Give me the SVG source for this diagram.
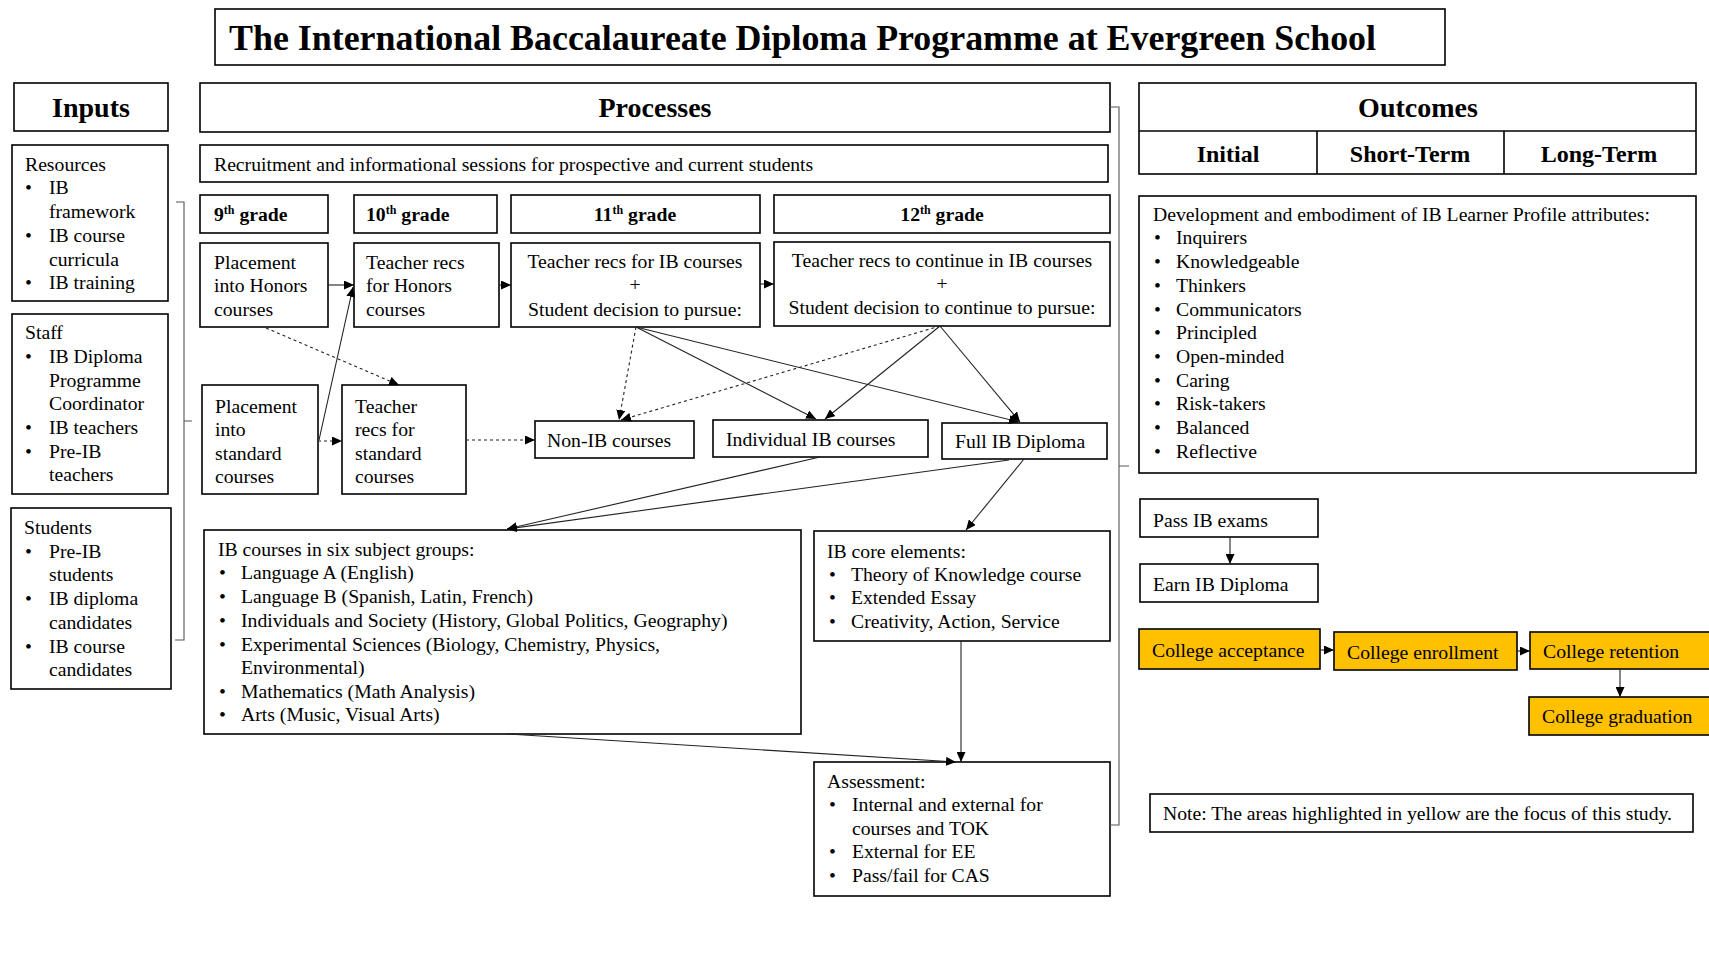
<svg xmlns="http://www.w3.org/2000/svg" width="1709" height="954" viewBox="0 0 1709 954">
<defs>
<style>
.box{fill:#fff;stroke:#000;stroke-width:1.6}
.yel{fill:#FFC000;stroke:#000;stroke-width:1.6}
.t{font-family:"Liberation Serif","Times New Roman",serif;font-size:19.7px;fill:#000}
.b{font-weight:bold}
.c{text-anchor:middle}
.h{font-size:28px;font-weight:bold}
.h2{font-size:24px;font-weight:bold}
.ln{stroke:#222;stroke-width:1.1;fill:none}
.dash{stroke-dasharray:3 3}
.br{stroke:#555;stroke-width:1.1;fill:none}
</style>
<marker id="ah" markerUnits="userSpaceOnUse" markerWidth="11" markerHeight="9" refX="10" refY="4.5" orient="auto" viewBox="0 0 11 9">
<path d="M0,0 L10,4.5 L0,9 z" fill="#000"/>
</marker>
</defs>
<rect width="1709" height="954" fill="#fff"/>

<g id="title">
<rect class="box" x="215" y="9" width="1230" height="56"/>
<text class="t b" x="229" y="50" textLength="1147" lengthAdjust="spacingAndGlyphs" style="font-size:36px">The International Baccalaureate Diploma Programme at Evergreen School</text>
</g>

<g id="inputs-header">
<rect class="box" x="14" y="83" width="154" height="48"/>
<text class="t h c" x="91" y="117">Inputs</text>
</g>

<g id="resources">
<rect class="box" x="12" y="145" width="156" height="156"/>
<text class="t" x="25" y="171">Resources</text>
<text class="t" x="25" y="194">•</text><text class="t" x="49" y="194">IB</text>
<text class="t" x="49" y="218">framework</text>
<text class="t" x="25" y="242">•</text><text class="t" x="49" y="242">IB course</text>
<text class="t" x="49" y="266">curricula</text>
<text class="t" x="25" y="289">•</text><text class="t" x="49" y="289">IB training</text>
</g>

<g id="staff">
<rect class="box" x="12" y="314" width="156" height="180"/>
<text class="t" x="25" y="339">Staff</text>
<text class="t" x="25" y="363">•</text><text class="t" x="49" y="363">IB Diploma</text>
<text class="t" x="49" y="387">Programme</text>
<text class="t" x="49" y="410">Coordinator</text>
<text class="t" x="25" y="434">•</text><text class="t" x="49" y="434">IB teachers</text>
<text class="t" x="25" y="458">•</text><text class="t" x="49" y="458">Pre-IB</text>
<text class="t" x="49" y="481">teachers</text>
</g>

<g id="students">
<rect class="box" x="11" y="508" width="160" height="181"/>
<text class="t" x="24" y="534">Students</text>
<text class="t" x="25" y="558">•</text><text class="t" x="49" y="558">Pre-IB</text>
<text class="t" x="49" y="581">students</text>
<text class="t" x="25" y="605">•</text><text class="t" x="49" y="605">IB diploma</text>
<text class="t" x="49" y="629">candidates</text>
<text class="t" x="25" y="653">•</text><text class="t" x="49" y="653">IB course</text>
<text class="t" x="49" y="676">candidates</text>
</g>

<g id="processes-header">
<rect class="box" x="200" y="83" width="910" height="49"/>
<text class="t h c" x="655" y="117">Processes</text>
</g>

<g id="recruitment">
<rect class="box" x="200" y="145" width="908" height="37"/>
<text class="t" x="214" y="171">Recruitment and informational sessions for prospective and current students</text>
</g>

<g id="grade9">
<rect class="box" x="200" y="195" width="128" height="38"/>
<text class="t b" x="214" y="221">9<tspan dy="-7" style="font-size:12px">th</tspan><tspan dy="7"> grade</tspan></text>
</g>
<g id="grade10">
<rect class="box" x="354" y="195" width="143" height="38"/>
<text class="t b" x="366" y="221">10<tspan dy="-7" style="font-size:12px">th</tspan><tspan dy="7"> grade</tspan></text>
</g>
<g id="grade11">
<rect class="box" x="511" y="195" width="249" height="38"/>
<text class="t b c" x="635" y="221">11<tspan dy="-7" style="font-size:12px">th</tspan><tspan dy="7"> grade</tspan></text>
</g>
<g id="grade12">
<rect class="box" x="774" y="195" width="336" height="38"/>
<text class="t b c" x="942" y="221">12<tspan dy="-7" style="font-size:12px">th</tspan><tspan dy="7"> grade</tspan></text>
</g>

<g id="placement-honors">
<rect class="box" x="200" y="243" width="128" height="84"/>
<text class="t" x="214" y="269">Placement</text>
<text class="t" x="214" y="292">into Honors</text>
<text class="t" x="214" y="316">courses</text>
</g>
<g id="recs-honors">
<rect class="box" x="354" y="243" width="145" height="84"/>
<text class="t" x="366" y="269">Teacher recs</text>
<text class="t" x="366" y="292">for Honors</text>
<text class="t" x="366" y="316">courses</text>
</g>
<g id="recs-ib">
<rect class="box" x="511" y="243" width="249" height="84"/>
<text class="t c" x="635" y="268">Teacher recs for IB courses</text>
<text class="t c" x="635" y="291">+</text>
<text class="t c" x="635" y="316">Student decision to pursue:</text>
</g>
<g id="recs-continue">
<rect class="box" x="774" y="242" width="336" height="84"/>
<text class="t c" x="942" y="267">Teacher recs to continue in IB courses</text>
<text class="t c" x="942" y="290">+</text>
<text class="t c" x="942" y="314">Student decision to continue to pursue:</text>
</g>

<g id="placement-standard">
<rect class="box" x="202" y="385" width="116" height="109"/>
<text class="t" x="215" y="413">Placement</text>
<text class="t" x="215" y="436">into</text>
<text class="t" x="215" y="460">standard</text>
<text class="t" x="215" y="483">courses</text>
</g>
<g id="recs-standard">
<rect class="box" x="342" y="385" width="124" height="109"/>
<text class="t" x="355" y="413">Teacher</text>
<text class="t" x="355" y="436">recs for</text>
<text class="t" x="355" y="460">standard</text>
<text class="t" x="355" y="483">courses</text>
</g>

<g id="non-ib">
<rect class="box" x="535" y="421" width="159" height="37"/>
<text class="t" x="547" y="447">Non-IB courses</text>
</g>
<g id="individual-ib">
<rect class="box" x="713" y="420" width="215" height="37"/>
<text class="t" x="726" y="446">Individual IB courses</text>
</g>
<g id="full-ib">
<rect class="box" x="942" y="423" width="165" height="36"/>
<text class="t" x="955" y="448">Full IB Diploma</text>
</g>

<g id="ib-courses">
<rect class="box" x="204" y="530" width="597" height="204"/>
<text class="t" x="218" y="556">IB courses in six subject groups:</text>
<text class="t" x="219" y="579">•</text><text class="t" x="241" y="579">Language A (English)</text>
<text class="t" x="219" y="603">•</text><text class="t" x="241" y="603">Language B (Spanish, Latin, French)</text>
<text class="t" x="219" y="627">•</text><text class="t" x="241" y="627">Individuals and Society (History, Global Politics, Geography)</text>
<text class="t" x="219" y="651">•</text><text class="t" x="241" y="651">Experimental Sciences (Biology, Chemistry, Physics,</text>
<text class="t" x="241" y="674">Environmental)</text>
<text class="t" x="219" y="698">•</text><text class="t" x="241" y="698">Mathematics (Math Analysis)</text>
<text class="t" x="219" y="721">•</text><text class="t" x="241" y="721">Arts (Music, Visual Arts)</text>
</g>

<g id="ib-core">
<rect class="box" x="814" y="531" width="296" height="110"/>
<text class="t" x="827" y="558">IB core elements:</text>
<text class="t" x="829" y="581">•</text><text class="t" x="851" y="581">Theory of Knowledge course</text>
<text class="t" x="829" y="604">•</text><text class="t" x="851" y="604">Extended Essay</text>
<text class="t" x="829" y="628">•</text><text class="t" x="851" y="628">Creativity, Action, Service</text>
</g>

<g id="assessment">
<rect class="box" x="814" y="762" width="296" height="134"/>
<text class="t" x="827" y="788">Assessment:</text>
<text class="t" x="829" y="811">•</text><text class="t" x="852" y="811">Internal and external for</text>
<text class="t" x="852" y="835">courses and TOK</text>
<text class="t" x="829" y="858">•</text><text class="t" x="852" y="858">External for EE</text>
<text class="t" x="829" y="882">•</text><text class="t" x="852" y="882">Pass/fail for CAS</text>
</g>

<g id="outcomes-header">
<rect class="box" x="1139" y="83" width="557" height="91"/>
<line x1="1139" y1="131" x2="1696" y2="131" stroke="#000" stroke-width="1.6"/>
<line x1="1317" y1="131" x2="1317" y2="174" stroke="#000" stroke-width="1.6"/>
<line x1="1504" y1="131" x2="1504" y2="174" stroke="#000" stroke-width="1.6"/>
<text class="t h c" x="1418" y="117">Outcomes</text>
<text class="t h2 c" x="1228" y="162">Initial</text>
<text class="t h2 c" x="1410" y="162">Short-Term</text>
<text class="t h2 c" x="1599" y="162">Long-Term</text>
</g>

<g id="learner-profile">
<rect class="box" x="1139" y="196" width="557" height="277"/>
<text class="t" x="1153" y="221">Development and embodiment of IB Learner Profile attributes:</text>
<text class="t" x="1154" y="244">•</text><text class="t" x="1176" y="244">Inquirers</text>
<text class="t" x="1154" y="268">•</text><text class="t" x="1176" y="268">Knowledgeable</text>
<text class="t" x="1154" y="292">•</text><text class="t" x="1176" y="292">Thinkers</text>
<text class="t" x="1154" y="316">•</text><text class="t" x="1176" y="316">Communicators</text>
<text class="t" x="1154" y="339">•</text><text class="t" x="1176" y="339">Principled</text>
<text class="t" x="1154" y="363">•</text><text class="t" x="1176" y="363">Open-minded</text>
<text class="t" x="1154" y="387">•</text><text class="t" x="1176" y="387">Caring</text>
<text class="t" x="1154" y="410">•</text><text class="t" x="1176" y="410">Risk-takers</text>
<text class="t" x="1154" y="434">•</text><text class="t" x="1176" y="434">Balanced</text>
<text class="t" x="1154" y="458">•</text><text class="t" x="1176" y="458">Reflective</text>
</g>

<g id="pass-exams">
<rect class="box" x="1140" y="499" width="178" height="38"/>
<text class="t" x="1153" y="527">Pass IB exams</text>
</g>
<g id="earn-diploma">
<rect class="box" x="1140" y="564" width="178" height="38"/>
<text class="t" x="1153" y="591">Earn IB Diploma</text>
</g>
<g id="college-acceptance">
<rect class="yel" x="1139" y="629" width="181" height="40"/>
<text class="t" x="1152" y="657">College acceptance</text>
</g>
<g id="college-enrollment">
<rect class="yel" x="1334" y="632" width="183" height="38"/>
<text class="t" x="1347" y="659">College enrollment</text>
</g>
<g id="college-retention">
<rect class="yel" x="1530" y="632" width="185" height="37"/>
<text class="t" x="1543" y="658">College retention</text>
</g>
<g id="college-graduation">
<rect class="yel" x="1529" y="697" width="185" height="38"/>
<text class="t" x="1542" y="723">College graduation</text>
</g>
<g id="note">
<rect class="box" x="1150" y="794" width="543" height="38"/>
<text class="t" x="1163" y="820">Note: The areas highlighted in yellow are the focus of this study.</text>
</g>

<g id="connectors">
<path class="br" d="M176,202 H184 V640 H175 M184,421 H192"/>
<path class="br" d="M1110,107 H1119 V825 H1110 M1119,466 H1129"/>
<line class="ln" x1="328" y1="285" x2="354" y2="285" marker-end="url(#ah)"/>
<line class="ln" x1="499" y1="285" x2="511" y2="285" marker-end="url(#ah)"/>
<line class="ln" x1="760" y1="284" x2="774" y2="284" marker-end="url(#ah)"/>
<line class="ln dash" x1="266" y1="328" x2="399" y2="385" marker-end="url(#ah)"/>
<line class="ln" x1="319" y1="440" x2="353" y2="287" marker-end="url(#ah)"/>
<line class="ln dash" x1="318" y1="441" x2="342" y2="441" marker-end="url(#ah)"/>
<line class="ln dash" x1="466" y1="440" x2="535" y2="440" marker-end="url(#ah)"/>
<line class="ln dash" x1="636" y1="327" x2="619" y2="420" marker-end="url(#ah)"/>
<line class="ln" x1="636" y1="327" x2="816" y2="419" marker-end="url(#ah)"/>
<line class="ln" x1="636" y1="327" x2="1019" y2="422" marker-end="url(#ah)"/>
<line class="ln dash" x1="940" y1="326" x2="621" y2="420" marker-end="url(#ah)"/>
<line class="ln" x1="940" y1="326" x2="825" y2="419" marker-end="url(#ah)"/>
<line class="ln" x1="940" y1="326" x2="1020" y2="422" marker-end="url(#ah)"/>
<line class="ln" x1="820" y1="457" x2="507" y2="529" marker-end="url(#ah)"/>
<line class="ln" x1="1009" y1="460" x2="507" y2="529" marker-end="url(#ah)"/>
<line class="ln" x1="1024" y1="459" x2="966" y2="530" marker-end="url(#ah)"/>
<line class="ln" x1="961" y1="641" x2="961" y2="762" marker-end="url(#ah)"/>
<line class="ln" x1="507" y1="734" x2="956" y2="762" marker-end="url(#ah)"/>
<line class="ln" x1="1230" y1="537" x2="1230" y2="564" marker-end="url(#ah)"/>
<line class="ln" x1="1320" y1="650" x2="1334" y2="650" marker-end="url(#ah)"/>
<line class="ln" x1="1517" y1="651" x2="1530" y2="651" marker-end="url(#ah)"/>
<line class="ln" x1="1620" y1="669" x2="1620" y2="697" marker-end="url(#ah)"/>
</g>
</svg>
